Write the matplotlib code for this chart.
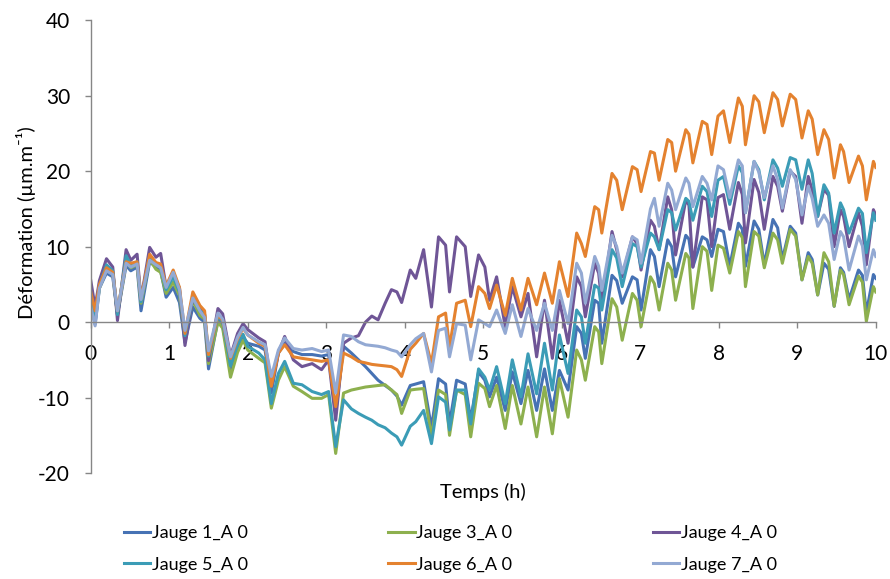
import numpy as np
import matplotlib.pyplot as plt

plt.rcParams['font.family'] = ['Lato', 'DejaVu Sans']
plt.rcParams['axes.unicode_minus'] = False

# time (h) - shared sampling points
temps = [0.00, 0.055, 0.11, 0.20, 0.28, 0.34, 0.45, 0.51, 0.59, 0.64, 0.75, 0.83, 0.89,
         0.96, 1.05, 1.13, 1.20, 1.30, 1.39, 1.45, 1.50, 1.62, 1.68, 1.78, 1.87, 1.94,
         2.00, 2.14, 2.22, 2.30, 2.39, 2.47, 2.58, 2.69, 2.82, 2.94, 3.03, 3.12, 3.22,
         3.32, 3.41, 3.50, 3.58, 3.66, 3.75, 3.83, 3.90, 3.96,
         4.07, 4.14, 4.24, 4.34, 4.43, 4.52, 4.57, 4.66, 4.77, 4.84, 4.94, 5.02, 5.08,
         5.17, 5.28, 5.37, 5.48, 5.57, 5.68, 5.78, 5.88, 5.97,
         6.08, 6.19, 6.25, 6.30, 6.42, 6.47, 6.51, 6.64, 6.70, 6.77, 6.90, 6.96, 7.01,
         7.13, 7.18, 7.24, 7.35, 7.40, 7.45, 7.58, 7.62, 7.67, 7.79, 7.85, 7.91, 7.99, 8.06,
         8.14, 8.25, 8.30, 8.34, 8.45, 8.51, 8.58, 8.69, 8.75, 8.81, 8.91, 8.98, 9.06,
         9.14, 9.19, 9.26, 9.34, 9.40, 9.47, 9.55, 9.59, 9.66, 9.78, 9.83, 9.88, 9.97, 10.00]

jauge1 = [3.0, -0.3, 4.5, 6.5, 6.0, 1.0, 7.5, 6.8, 7.3, 1.5, 8.0, 7.3, 6.8, 3.3, 4.6, 2.6, -2.7, 2.0, 0.5, 0.0, -6.2, 0.3, -0.5, -6.2, -3.5, -2.0,
          -2.8, -3.2, -3.7, -9.4, -4.1, -2.8, -3.9, -4.3, -4.3, -4.5, -4.3, -12.0, -3.2, -4.1, -5.0, -5.9, -6.8, -7.7, -8.4, -9.0, -9.8, -11.0,
          -8.4, -8.2, -7.9, -14.0, -7.5, -8.2, -13.5, -7.7, -8.2, -13.0, -6.6, -7.7, -9.9, -7.3, -11.7, -6.6, -10.8, -6.4, -11.7, -6.2, -11.7, -6.4,
          -9.0, -0.6, -1.5, -4.8, 2.9, 2.5, -2.8, 6.2, 5.5, 2.5, 6.0, 5.6, 1.6, 9.6, 8.7, 4.7, 10.9, 10.0, 6.0, 11.5, 11.0, 7.3, 11.3, 10.9, 8.7, 12.3, 12.0,
          7.4, 13.1, 12.3, 7.4, 13.4, 12.3, 7.6, 13.6, 12.5, 8.3, 12.7, 11.8, 5.6, 9.2, 8.3, 3.6, 7.8, 7.0, 2.1, 7.2, 6.6, 3.0, 6.9, 6.2, 1.2, 6.3, 5.8]

jauge3 = [3.5, 0.5, 4.5, 7.0, 6.5, 1.0, 8.0, 7.2, 7.6, 2.5, 8.3, 7.0, 6.6, 3.8, 5.3, 3.5, -2.2, 2.9, 0.9, 0.4, -5.5, 0.0, -0.8, -7.3, -4.0, -2.4,
          -3.7, -4.8, -5.4, -11.4, -7.7, -5.9, -8.5, -9.2, -10.1, -10.1, -9.6, -17.4, -9.4, -9.0, -8.8, -8.6, -8.5, -8.4, -8.3, -9.0, -9.6, -12.1,
          -9.0, -8.9, -8.8, -15.2, -9.0, -9.6, -15.0, -9.0, -9.6, -15.2, -8.1, -8.8, -11.2, -8.4, -14.1, -8.4, -13.5, -8.6, -15.2, -8.6, -14.8, -7.5,
          -12.6, -3.7, -5.0, -7.7, -0.6, -1.3, -5.5, 3.1, 2.0, -2.4, 3.8, 2.9, -0.6, 6.0, 5.1, 1.6, 7.8, 6.9, 2.9, 9.1, 8.5, 1.8, 10.0, 9.4, 4.2, 10.2, 9.8,
          6.5, 12.0, 11.2, 4.7, 12.0, 11.4, 7.2, 11.8, 10.9, 7.8, 12.3, 11.4, 5.6, 8.7, 7.8, 3.6, 9.2, 8.0, 2.1, 6.9, 6.3, 2.3, 6.1, 5.3, 0.1, 4.7, 4.0]

jauge4 = [5.5, 2.0, 5.5, 8.4, 7.3, 0.2, 9.6, 8.2, 9.0, 3.0, 9.9, 8.6, 9.1, 4.6, 6.3, 4.5, -3.1, 3.2, 1.8, 1.0, -5.1, 1.8, 1.1, -4.5, -1.5, -0.2,
          -1.0, -2.1, -2.6, -8.5, -4.1, -1.9, -5.0, -5.9, -5.5, -6.3, -5.0, -13.0, -2.8, -2.1, -1.8, 0.0, 0.8, 0.3, 2.5, 4.3, 4.0, 2.6,
          6.9, 5.8, 9.6, 2.0, 11.3, 10.2, 4.0, 11.3, 10.0, 3.4, 8.9, 7.3, 2.9, 6.0, -0.6, 4.7, 0.7, 3.8, -4.6, 2.9, -4.8, 2.9,
          -2.8, 6.0, 4.7, 0.7, 7.8, 6.5, 2.5, 12.0, 9.6, 6.0, 11.3, 10.4, 6.9, 13.5, 12.7, 9.6, 16.6, 14.9, 8.9, 16.2, 15.5, 7.3, 16.6, 16.2, 10.0, 16.5, 16.9,
          12.3, 18.5, 16.9, 10.5, 18.9, 17.2, 12.3, 19.3, 18.0, 14.7, 20.0, 19.3, 13.1, 19.3, 17.5, 14.0, 17.6, 16.8, 10.0, 14.9, 14.0, 10.0, 14.5, 12.7, 7.6, 14.9, 14.2]

jauge5 = [3.0, 0.0, 4.8, 7.6, 6.8, 1.0, 8.8, 7.6, 8.0, 2.7, 8.8, 7.6, 7.2, 4.3, 6.0, 4.0, -1.8, 3.3, 1.5, 1.0, -4.5, 0.8, 0.0, -5.8, -3.0, -1.6,
          -3.2, -4.1, -5.0, -10.8, -6.8, -5.2, -8.1, -8.3, -9.2, -9.6, -9.2, -16.5, -10.3, -11.5, -12.1, -12.6, -13.0, -13.6, -14.0, -14.7, -15.2, -16.3,
          -13.8, -13.2, -11.7, -16.1, -9.9, -10.6, -14.3, -9.0, -9.0, -13.5, -6.2, -7.3, -9.0, -5.9, -10.8, -5.0, -9.9, -4.2, -9.5, -2.8, -9.0, -1.7,
          -6.8, 1.6, 0.7, -2.8, 4.9, 4.5, 1.6, 9.6, 8.5, 4.7, 10.4, 10.0, 7.3, 11.8, 11.3, 9.6, 14.9, 14.5, 12.2, 16.4, 16.0, 13.5, 18.0, 17.3, 14.0, 18.8, 19.3,
          15.6, 20.7, 19.8, 14.5, 21.3, 20.2, 16.2, 21.5, 20.4, 18.0, 21.8, 21.5, 17.6, 21.5, 19.7, 14.0, 18.2, 17.1, 11.8, 15.8, 14.9, 11.8, 15.1, 14.4, 9.2, 14.5, 13.5]

jauge6 = [4.0, 1.5, 5.0, 7.2, 6.6, 1.5, 8.0, 7.8, 8.0, 3.1, 9.0, 7.9, 7.7, 4.8, 6.9, 4.6, -1.5, 4.0, 2.2, 1.5, -4.3, 1.0, 0.2, -4.8, -2.2, -0.8,
          -1.7, -2.8, -3.2, -8.5, -4.1, -3.0, -4.6, -4.8, -5.0, -5.2, -5.0, -11.2, -4.1, -4.6, -5.2, -5.4, -5.6, -5.7, -5.8, -5.9, -6.3, -7.2,
          -3.6, -2.8, -1.5, -5.5, 0.7, 1.2, -3.3, 2.5, 2.9, -0.6, 4.7, 3.8, 1.8, 4.9, 0.9, 5.8, 1.6, 5.8, 2.3, 6.5, 2.5, 8.0,
          3.4, 11.8, 10.4, 8.7, 15.3, 14.9, 11.8, 19.7, 18.8, 14.9, 20.6, 20.2, 17.3, 22.6, 22.4, 18.8, 24.2, 23.8, 20.0, 25.5, 24.9, 21.1, 26.6, 26.2, 22.2, 27.3, 28.0,
          23.8, 29.7, 28.6, 23.5, 30.0, 29.2, 25.1, 30.4, 29.5, 26.0, 30.2, 29.5, 24.4, 28.0, 26.9, 22.2, 25.5, 24.2, 19.1, 23.5, 22.6, 18.5, 22.0, 20.7, 16.2, 21.3, 20.5]

jauge7 = [2.0, -0.5, 4.5, 6.8, 6.3, 1.5, 7.8, 7.3, 7.7, 3.0, 8.2, 7.6, 7.2, 4.6, 6.6, 4.3, -1.1, 3.2, 1.5, 0.6, -3.8, 1.2, 0.4, -4.6, -2.0, -0.7,
          -1.7, -2.6, -3.0, -7.2, -3.7, -2.1, -3.5, -3.7, -3.5, -3.9, -3.7, -9.4, -1.7, -1.9, -2.6, -3.0, -3.1, -3.2, -3.4, -3.7, -3.9, -4.6,
          -3.0, -2.2, -1.5, -6.6, -1.1, -0.8, -4.6, -0.2, -0.4, -5.0, 0.3, -0.2, -0.6, 1.6, -1.5, 2.3, -1.9, 1.8, -1.1, 2.5, -1.1, 4.2,
          -0.2, 7.8, 6.5, 2.5, 8.7, 7.4, 4.2, 11.5, 10.0, 6.5, 11.3, 10.9, 7.8, 15.0, 16.4, 12.7, 18.4, 17.5, 14.9, 19.1, 18.4, 15.3, 19.3, 18.4, 16.2, 20.7, 20.2,
          16.5, 21.5, 20.7, 14.5, 21.3, 19.9, 16.5, 20.7, 18.9, 15.1, 20.2, 18.9, 14.2, 18.0, 16.4, 12.7, 14.2, 13.1, 8.3, 12.0, 11.3, 6.9, 11.4, 10.1, 5.6, 9.6, 8.7]

series = [jauge1, jauge3, jauge4, jauge5, jauge6, jauge7]
labels = ['Jauge 1_A 0', 'Jauge 3_A 0', 'Jauge 4_A 0', 'Jauge 5_A 0', 'Jauge 6_A 0', 'Jauge 7_A 0']
colors = ['#4672B4', '#8DB04E', '#6F5596', '#3B9CB6', '#E4822F', '#93A9D3']

fig = plt.figure(figsize=(8.9, 5.79), dpi=100)
ax = fig.add_axes([0.102, 0.183, 0.882, 0.782])

lines = []
for y, lab, c in zip(series, labels, colors):
    ln, = ax.plot(temps, y, color=c, lw=2.2, label=lab, solid_joinstyle='round')
    lines.append(ln)

ax.set_xlim(0, 10)
ax.set_ylim(-20, 40)
ax.set_xticks(np.arange(0, 11, 1))
ax.set_yticks(np.arange(-20, 41, 10))

ax.spines['top'].set_visible(False)
ax.spines['right'].set_visible(False)
ax.spines['bottom'].set_position(('data', 0))
for s in ['left', 'bottom']:
    ax.spines[s].set_color('#868686')
    ax.spines[s].set_linewidth(1.0)

ax.tick_params(axis='both', direction='out', length=4, width=1, color='#868686', labelsize=15)
ax.tick_params(axis='x', pad=12)
ax.tick_params(axis='y', pad=11)

ax.set_ylabel('Déformation (µm.m⁻¹)', fontsize=14.5)
ax.yaxis.set_label_coords(-0.070, 0.554)
ax.set_xlabel('Temps (h)', fontsize=14.5)
ax.xaxis.set_label_coords(0.5, -0.022)

# legend reads row by row: 1, 3, 4 / 5, 6, 7
order = [0, 3, 1, 4, 2, 5]
fig.legend([lines[i] for i in order], [labels[i] for i in order],
           loc='center', bbox_to_anchor=(0.506, 0.052), ncol=3, frameon=False,
           fontsize=13, handlelength=1.45, handletextpad=0.1, columnspacing=7.8,
           labelspacing=0.85)

fig.savefig('out.png', dpi=100)
